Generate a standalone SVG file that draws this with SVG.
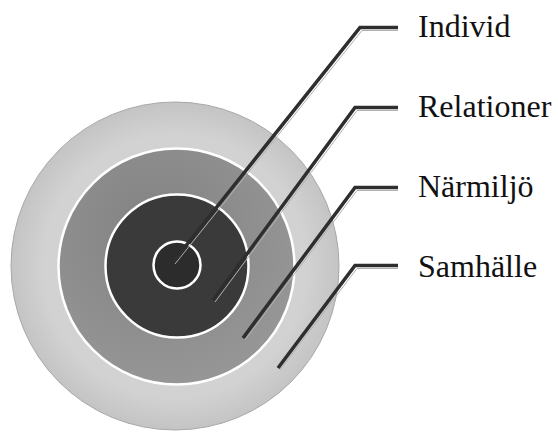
<svg xmlns="http://www.w3.org/2000/svg" width="558" height="432" viewBox="0 0 558 432">
  <style>
    .ring { stroke: #ffffff; stroke-width: 2.5; }
    .label { font-family: "Liberation Serif", "Times New Roman", serif; font-size: 32px; fill: #111111; }
    .lead { fill: none; stroke: #2e2e2e; stroke-width: 3.5; stroke-linejoin: miter; stroke-linecap: butt; }
    .halo { fill: none; stroke: #b0b0b0; stroke-width: 1; stroke-linejoin: miter; }
  </style>
  <defs>
    <radialGradient id="gOuter" cx="0.5" cy="0.5" r="0.5">
      <stop offset="0.8" stop-color="#d2d2d2"/>
      <stop offset="1" stop-color="#c4c4c4"/>
    </radialGradient>
    <radialGradient id="gMid" cx="0.4" cy="0.35" r="0.7">
      <stop offset="0" stop-color="#828282"/>
      <stop offset="1" stop-color="#979797"/>
    </radialGradient>
  </defs>
  <rect width="558" height="432" fill="#ffffff"/>

  <g id="samhalle">
    <circle cx="175" cy="266" r="164" fill="url(#gOuter)" stroke="#a8a8a8" stroke-width="1"/>
  </g>
  <g id="narmiljo">
    <circle cx="176.5" cy="266.5" r="118" fill="url(#gMid)" class="ring"/>
  </g>
  <g id="relationer">
    <circle cx="177" cy="266" r="71.5" fill="#3a3a3a" class="ring"/>
  </g>
  <g id="individ">
    <circle cx="177" cy="265" r="23.5" fill="#2c2c2c" class="ring"/>
  </g>

  <g id="connectors">
    <polyline class="halo" points="398,30.5 362,30.5 175,264"/>
    <polyline class="lead" points="398,27.5 360,27.5 173,262"/>
    <polyline class="halo" points="398,110.5 357,110.5 215,302"/>
    <polyline class="lead" points="398,107.5 355,107.5 213,300"/>
    <polyline class="halo" points="398,190.5 357,190.5 245,340"/>
    <polyline class="lead" points="398,187.5 355,187.5 243,338"/>
    <polyline class="halo" points="398,268.5 357,268.5 280,370"/>
    <polyline class="lead" points="398,265.5 355,265.5 278,368"/>
  </g>

  <g id="labels">
    <text class="label" x="418" y="37">Individ</text>
    <text class="label" x="418" y="117">Relationer</text>
    <text class="label" x="418" y="197">Närmiljö</text>
    <text class="label" x="418" y="277">Samhälle</text>
  </g>
</svg>
